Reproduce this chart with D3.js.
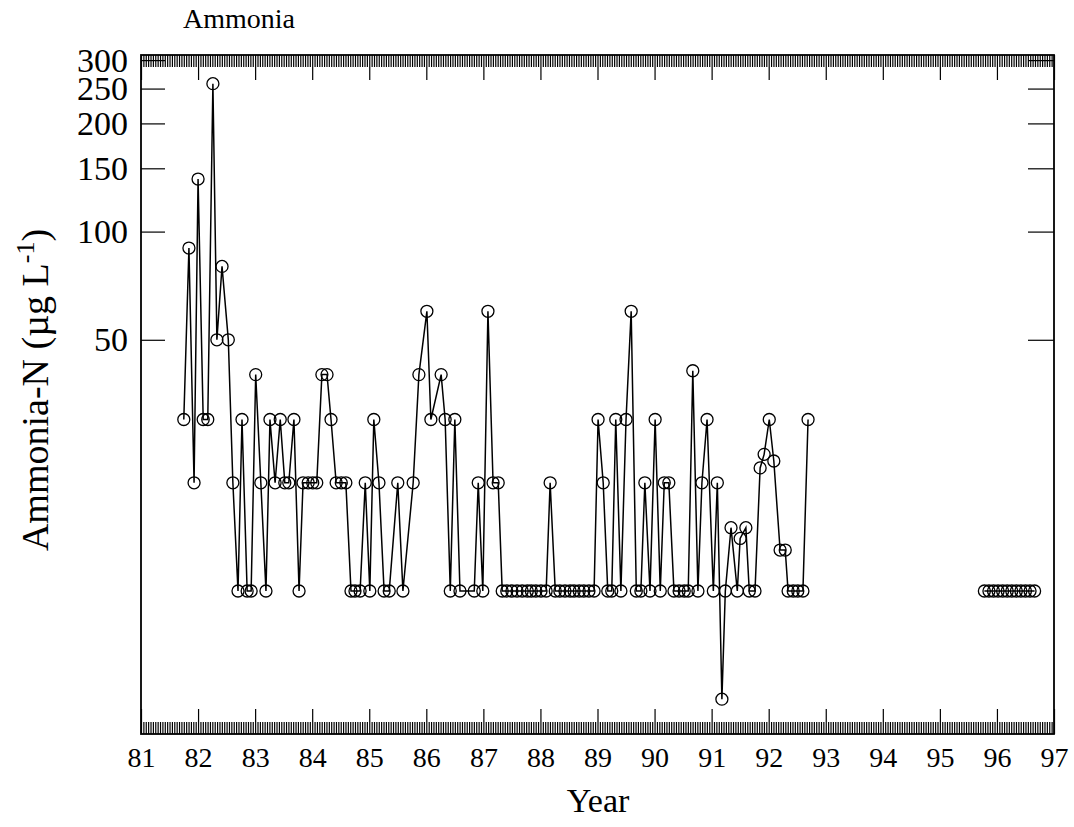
<!DOCTYPE html>
<html>
<head>
<meta charset="utf-8">
<script src="https://cdn.jsdelivr.net/npm/d3@7"></script>
<style>
  html, body { margin: 0; padding: 0; background: #fff; }
  svg { display: block; font-family: "Liberation Serif", "Times New Roman", serif; }
</style>
</head>
<body>
<svg id="chart" width="1074" height="827"></svg>
<script>
// Sampling dates (decimal years, 19xx) and ammonia-N concentrations (µg/L)
const years = [
  81.75, 81.84, 81.93, 82.00, 82.09, 82.17, 82.26, 82.33, 82.42, 82.53,
  82.61, 82.70, 82.77, 82.86, 82.93, 83.01, 83.10, 83.19, 83.26, 83.35,
  83.44, 83.52, 83.59, 83.68, 83.77, 83.84, 83.93, 84.01, 84.08, 84.17,
  84.26, 84.33, 84.42, 84.51, 84.59, 84.68, 84.75, 84.84, 84.93, 85.01,
  85.08, 85.17, 85.26, 85.35, 85.50, 85.59, 85.77, 85.87, 86.01, 86.08,
  86.26, 86.33, 86.42, 86.50, 86.59, 86.84, 86.91, 86.99, 87.08, 87.17,
  87.26, 87.33, 87.41, 87.50, 87.59, 87.68, 87.77, 87.84, 87.92, 88.01,
  88.10, 88.17, 88.26, 88.34, 88.43, 88.52, 88.59, 88.68, 88.76, 88.85,
  88.94, 89.01, 89.10, 89.18, 89.25, 89.32, 89.41, 89.50, 89.59, 89.68,
  89.76, 89.83, 89.92, 90.01, 90.10, 90.17, 90.25, 90.34, 90.43, 90.52,
  90.59, 90.67, 90.76, 90.83, 90.92, 91.03, 91.10, 91.18, 91.24, 91.34,
  91.45, 91.50, 91.60, 91.66, 91.76, 91.85, 91.92, 92.01, 92.09, 92.20,
  92.29, 92.34, 92.43, 92.51, 92.60, 92.69,
  95.78, 95.86, 95.94, 96.02, 96.10, 96.18, 96.26, 96.34, 96.42, 96.50,
  96.58, 96.66
];
const ammonia = [
  30, 90, 20, 140, 30, 30, 258, 50, 80, 50,
  20, 10, 30, 10, 10, 40, 20, 10, 30, 20,
  30, 20, 20, 30, 10, 20, 20, 20, 20, 40,
  40, 30, 20, 20, 20, 10, 10, 10, 20, 10,
  30, 20, 10, 10, 20, 10, 20, 40, 60, 30,
  40, 30, 10, 30, 10, 10, 20, 10, 60, 20,
  20, 10, 10, 10, 10, 10, 10, 10, 10, 10,
  10, 20, 10, 10, 10, 10, 10, 10, 10, 10,
  10, 30, 20, 10, 10, 30, 10, 30, 60, 10,
  10, 20, 10, 30, 10, 20, 20, 10, 10, 10,
  10, 41, 10, 20, 30, 10, 20, 5, 10, 15,
  10, 14, 15, 10, 10, 22, 24, 30, 23, 13,
  13, 10, 10, 10, 10, 30,
  10, 10, 10, 10, 10, 10, 10, 10, 10, 10,
  10, 10
];

// Axis ticks
const yearTicks = d3.range(81, 98);
const concTicks = [50, 100, 150, 200, 250, 300];
const minorPerYear = 24;

const margin = { left: 141, right: 1054, top: 55, bottom: 734 };
const svg = d3.select("#chart");

const x = d3.scaleLinear().domain([81, 97]).range([margin.left, margin.right]);
const y = d3.scaleLog().domain([4, 310]).range([margin.bottom, margin.top]);

const minorTicks = d3.range(81 * minorPerYear, 97 * minorPerYear + 1)
  .map(i => i / minorPerYear)
  .filter(v => !yearTicks.includes(v));

function styleAxis(g) {
  g.attr("font-family", "'Liberation Serif', 'Times New Roman', serif");
  g.select(".domain").remove();
  g.selectAll(".tick line").attr("stroke", "#000").attr("stroke-width", 1.2);
  g.selectAll("text").attr("fill", "#000");
}

// minor ticks, bottom and top
svg.append("g")
  .attr("transform", `translate(0,${margin.bottom})`)
  .call(d3.axisBottom(x).tickValues(minorTicks).tickSize(-12).tickFormat(""))
  .call(styleAxis);
svg.append("g")
  .attr("transform", `translate(0,${margin.top})`)
  .call(d3.axisTop(x).tickValues(minorTicks).tickSize(-12).tickFormat(""))
  .call(styleAxis);

// year ticks with labels
svg.append("g")
  .attr("transform", `translate(0,${margin.bottom})`)
  .call(d3.axisBottom(x).tickValues(yearTicks).tickSize(-25).tickPadding(13).tickFormat(d3.format("d")))
  .call(styleAxis)
  .attr("font-size", 28);
svg.append("g")
  .attr("transform", `translate(0,${margin.top})`)
  .call(d3.axisTop(x).tickValues(yearTicks).tickSize(-25).tickFormat(""))
  .call(styleAxis);

// concentration ticks
svg.append("g")
  .attr("transform", `translate(${margin.left},0)`)
  .call(d3.axisLeft(y).tickValues(concTicks).tickSize(-24).tickPadding(13).tickFormat(d3.format("d")))
  .call(styleAxis)
  .attr("font-size", 34);
svg.append("g")
  .attr("transform", `translate(${margin.right},0)`)
  .call(d3.axisRight(y).tickValues(concTicks).tickSize(-26).tickFormat(""))
  .call(styleAxis);

// frame
svg.append("rect")
  .attr("x", margin.left).attr("y", margin.top)
  .attr("width", margin.right - margin.left)
  .attr("height", margin.bottom - margin.top)
  .attr("fill", "none").attr("stroke", "#000").attr("stroke-width", 1.8);

// data, split into runs wherever sampling stopped for more than a year
const points = years.map((t, i) => ({ t, v: ammonia[i] }));
const runs = [];
points.forEach((p, i) => {
  if (i === 0 || p.t - points[i - 1].t > 1) runs.push([]);
  runs[runs.length - 1].push(p);
});

const line = d3.line().x(d => x(d.t)).y(d => y(d.v));
svg.append("g").selectAll("path")
  .data(runs)
  .join("path")
  .attr("d", line)
  .attr("fill", "none")
  .attr("stroke", "#000")
  .attr("stroke-width", 1.5);

svg.append("g").selectAll("circle")
  .data(points)
  .join("circle")
  .attr("cx", d => x(d.t))
  .attr("cy", d => y(d.v))
  .attr("r", 6)
  .attr("fill", "none")
  .attr("stroke", "#000")
  .attr("stroke-width", 1.3);

// titles
svg.append("text")
  .attr("x", 183).attr("y", 28)
  .attr("font-size", 28)
  .text("Ammonia");

svg.append("text")
  .attr("x", 598).attr("y", 812)
  .attr("text-anchor", "middle")
  .attr("font-size", 34)
  .text("Year");

const yTitle = svg.append("text")
  .attr("transform", "translate(48,390) rotate(-90)")
  .attr("text-anchor", "middle")
  .attr("font-size", 38);
yTitle.append("tspan").text("Ammonia-N (\u00B5g L");
yTitle.append("tspan").attr("font-size", 26).attr("dy", -14).text("-1");
yTitle.append("tspan").attr("dy", 14).text(")");
</script>
</body>
</html>
